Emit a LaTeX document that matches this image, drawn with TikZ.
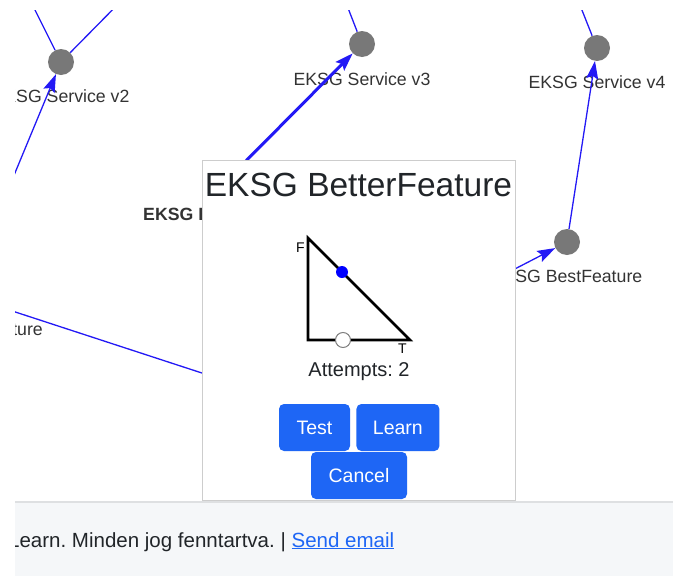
\documentclass[tikz,border=0pt]{standalone}
\usepackage{fontspec}
\setmainfont{Liberation Sans}
\usetikzlibrary{positioning, calc}
\usetikzlibrary{arrows.meta}
\frenchspacing

\begin{document}
\begin{tikzpicture}[x=1pt, y=-1pt, >={Stealth[length=18pt, width=12pt, inset=3pt]},
        service/.style={circle, fill=nodegray, minimum size=26pt, inner sep=0pt},
        svclabel/.style={text=labelgray, inner sep=0pt, anchor=base, font=\fontsize{17.7}{20}\selectfont},
        link/.style={draw=edgeblue, line width=1.3pt},
        button/.style={fill=btnblue, rounded corners=5pt, text=white, inner sep=0pt, minimum height=47pt, font=\fontsize{19.5}{22}\selectfont}]
        % Define colors
        \definecolor{edgeblue}{RGB}{35,25,245}
        \definecolor{nodegray}{RGB}{120,120,120}
        \definecolor{labelgray}{RGB}{51,51,51}
        \definecolor{titlegray}{RGB}{33,37,41}
        \definecolor{btnblue}{RGB}{30,102,245}
        \definecolor{framegray}{RGB}{205,205,205}
        \definecolor{footbg}{RGB}{245,247,249}
        \definecolor{footline}{RGB}{222,224,226}

        \useasboundingbox (0,0) rectangle (673,576);

        \begin{scope}
        \clip (15,10) rectangle (673,502);

        % Nodes
        \node[service] (service2) at (61,62) {};
        \node[service] (service3) at (362,44) {};
        \node[service] (service4) at (597,48) {};
        \node[service] (bestfeature) at (567,242) {};
        \coordinate (betterfeature) at (229,178);

        \node[svclabel] (service2label) at (61,102) {EKSG Service v2};
        \node[svclabel] (service3label) at (362,85) {EKSG Service v3};
        \node[svclabel] (service4label) at (597,88) {EKSG Service v4};
        \node[svclabel] (bestlabel) at (567,282) {EKSG BestFeature};
        \node[svclabel, anchor=base west, font=\fontsize{17.7}{20}\selectfont\bfseries] (betterlabel) at (143,220) {EKSG BetterFeature};
        \node[svclabel, anchor=base east] (featurelabel) at (43,335) {ture};

        % Loose ends
        \coordinate (in2) at (5,197);
        \coordinate (up2a) at (25,-10);
        \coordinate (up2b) at (132,-10);
        \coordinate (up3) at (341,-10);
        \coordinate (up4) at (574,-10);
        \coordinate (featurefrom) at (0,307);
        \coordinate (featureto) at (260,392);
        \coordinate (bestfrom) at (480,287);

        % Edges
        \draw[link, ->] (in2) -- (service2);
        \draw[link] (service2) -- (up2a);
        \draw[link] (service2) -- (up2b);
        \draw[link] (service3) -- (up3);
        \draw[link] (service4) -- (up4);
        \draw[link, ->, line width=3pt] (betterfeature) -- (service3);
        \draw[link, ->] (bestfeature) -- (service4);
        \draw[link, ->] (bestfrom) -- (bestfeature);
        \draw[link] (featurefrom) -- (featureto);
        \end{scope}

        % Dialog
        \node[draw=framegray, fill=white, line width=1pt, minimum width=313pt, minimum height=340pt, inner sep=0pt] (dialog) at (358.5,330) {};
        \node[text=titlegray, inner sep=0pt, anchor=base, font=\fontsize{33.5}{36}\selectfont] (title) at (358.5,196) {EKSG BetterFeature};

        \coordinate (triF) at (308,238);
        \coordinate (triO) at (308,340);
        \coordinate (triT) at (410,340);
        \draw[line width=2.6pt, line join=miter] (triF) -- (triO) -- (triT) -- cycle;
        \node[inner sep=0pt, anchor=base east, font=\fontsize{14}{16}\selectfont] (flabel) at (305,252) {F};
        \node[inner sep=0pt, anchor=base west, font=\fontsize{14}{16}\selectfont] (tlabel) at (398,353) {T};
        \node[circle, fill=blue, minimum size=12pt, inner sep=0pt] (truemark) at (342,272) {};
        \node[circle, draw=gray, fill=white, line width=1pt, minimum size=15pt, inner sep=0pt] (falsemark) at (343,340) {};

        \node[text=titlegray, inner sep=0pt, anchor=base, font=\fontsize{20}{22}\selectfont] (attempts) at (359,376) {Attempts: 2};

        \node[button, minimum width=71pt] (testbtn) at (314.5,427.5) {Test};
        \node[button, minimum width=83pt, right=6pt of testbtn] (learnbtn) {Learn};
        \node[button, minimum width=96pt] (cancelbtn) at (359,475.5) {Cancel};

        % Footer
        \fill[footbg] (15,502) rectangle (673,576);
        \draw[footline, line width=1.5pt] (15,502) -- (673,502);
        \begin{scope}
        \clip (15,502) rectangle (673,576);
        \node[text=titlegray, inner sep=0pt, anchor=base west, font=\fontsize{20.5}{22}\selectfont] (rights) at (8,547) {Learn. Minden jog fenntartva. | \textcolor{btnblue}{\underline{Send email}}};
        \end{scope}
    \end{tikzpicture}
\end{document}
